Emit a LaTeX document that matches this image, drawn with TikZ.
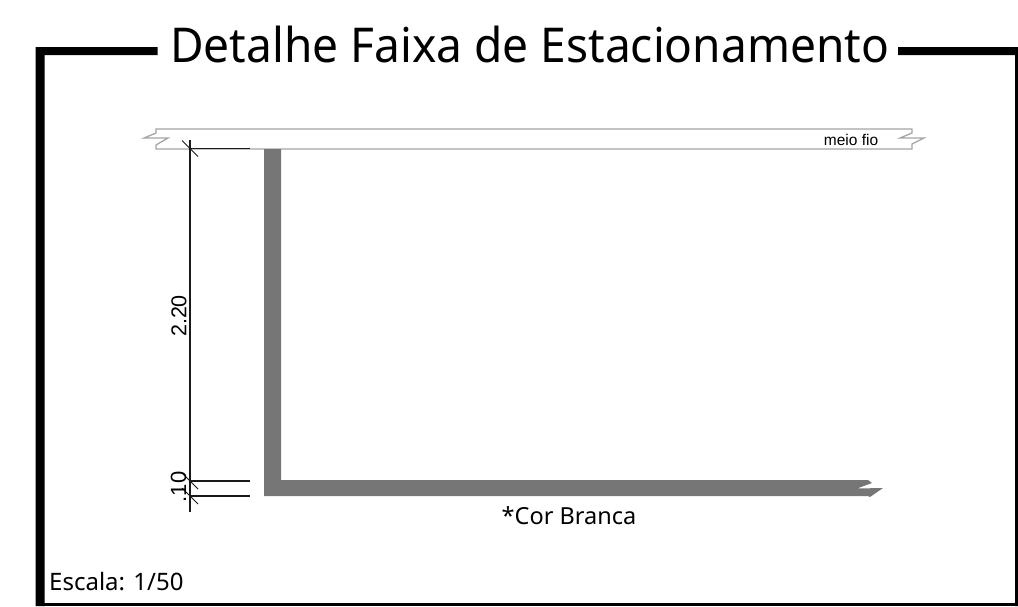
\documentclass[tikz,border=0pt]{standalone}
\usepackage{fontspec}
\setmainfont{Noto Sans}
\newfontfamily\arialfont{Liberation Sans}
\definecolor{stripe}{RGB}{118,118,118}
\definecolor{kerb}{RGB}{165,165,165}
\tikzset{
  framebar/.style={fill=black,draw=none},
  kerbline/.style={draw=kerb,line width=1.3pt,line join=miter},
  stripeshape/.style={fill=stripe,draw=none},
  dimline/.style={draw=black!90,line width=1.05pt},
  lab/.style={inner sep=0pt,anchor=base west,text=black}
}
\begin{document}
\begin{tikzpicture}[x=1pt,y=-1pt]
\useasboundingbox (0,0) rectangle (1018,606);
\fill[white] (0,0) rectangle (1018,606);
% frame
\fill[framebar] (35.5,47) -- (157.5,47) -- (157.5,55) -- (44.5,55) -- (44.5,606) -- (35.5,606) -- cycle;
\fill[framebar] (898,47) -- (1018,47) -- (1018,606) -- (1015,606) -- (1015,55) -- (898,55) -- cycle;
\fill[framebar] (44,603) rectangle (1018,606);
% title
\node[lab,xscale=0.96] (title) at (170,62) {\fontsize{48}{50}\selectfont Detalhe Faixa de Estacionamento};
% kerb
\draw[kerbline] (156,129) -- (912,129) -- (912,133) -- (900,138) -- (924,138) -- (912,144) -- (912,149) -- (156,149) -- (156,145) -- (168,138) -- (144,138) -- (156,133) -- cycle;
\node[inner sep=0pt,text=black] (meio) at (851,140) {\arialfont\fontsize{15.5}{17}\selectfont meio fio};
% stripe
\fill[stripeshape] (264,149) -- (281,149) -- (281,480) -- (868,480) -- (872,483) -- (857,488.5) -- (883,488) -- (870,497) -- (868,496) -- (264,496) -- cycle;
% dimensions
\draw[dimline] (190,140) -- (190,512);
\draw[dimline] (190,148.5) -- (250,148.5);
\draw[dimline] (190,481) -- (250,481);
\draw[dimline] (190,496) -- (250,496);
\draw[dimline] (182,140.5) -- (198,156.5);
\draw[dimline] (182,473) -- (198,489);
\draw[dimline] (182,488) -- (198,504);
\node[rotate=90,inner sep=0pt,text=black] (d1) at (179,316) {\arialfont\fontsize{21.5}{23}\selectfont 2.20};
\node[rotate=90,inner sep=0pt,text=black] (d2) at (178.5,487) {\arialfont\fontsize{22}{24}\selectfont .10};
% notes
\node[inner sep=0pt,text=black] (cor) at (569,516) {\fontsize{23.5}{25}\selectfont *Cor Branca};
\node[lab] (esc) at (49,590) {\fontsize{24}{26}\selectfont Escala: 1/50};
\end{tikzpicture}
\end{document}
